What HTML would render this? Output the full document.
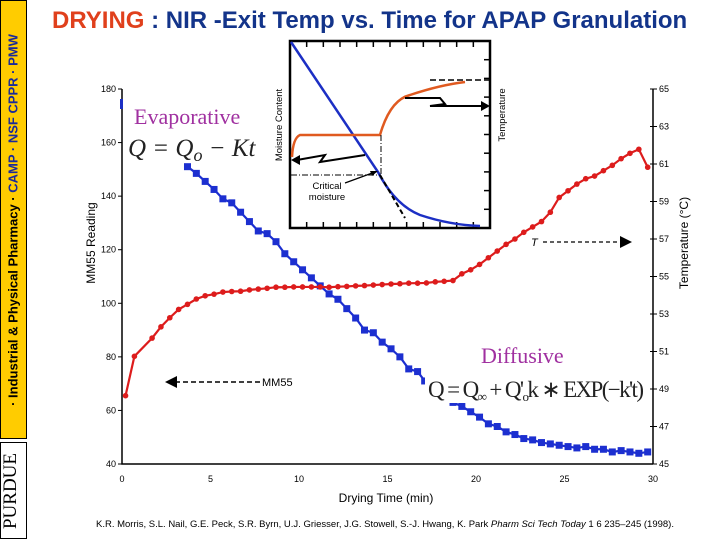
<!DOCTYPE html>
<html><head><meta charset="utf-8"><style>
body{margin:0;width:720px;height:540px;overflow:hidden;background:#fff;font-family:"Liberation Sans",sans-serif;position:relative}
.abs{position:absolute}
</style></head><body>
<div class="abs" style="left:0;top:0;width:27px;height:439px;background:#FFCC00;border:1px solid #000;box-sizing:border-box"></div>
<div class="abs" style="left:13px;top:220px;transform:translate(-50%,-50%) rotate(-90deg);white-space:nowrap;font-size:13px;font-weight:bold;color:#000">· Industrial &amp; Physical Pharmacy · <span style="color:#1a2a9a">CAMP · NSF CPPR · PMW</span></div>
<div class="abs" style="left:0;top:442px;width:27px;height:97px;border:1px solid #000;box-sizing:border-box"></div>
<div class="abs" style="left:11px;top:491px;transform:translate(-50%,-50%) rotate(-90deg);white-space:nowrap;font-family:'Liberation Serif',serif;font-size:19px">PURDUE</div>
<div class="abs" style="left:52px;top:7px;font-size:24px;font-weight:bold;color:#13348a;white-space:nowrap"><span style="color:#e0401c">DRYING</span> : NIR -Exit Temp vs. Time for APAP Granulation</div>
<svg class="abs" style="left:0;top:0" width="720" height="540" font-family="Liberation Sans, sans-serif">
<g id="axes"></g>
<g id="marks"></g>
<g>
<rect x="290" y="41" width="200" height="187" fill="#fff" stroke="#000" stroke-width="2.5"/>
<g id="insetTicks" stroke="#000" stroke-width="1.5"></g>
<path d="M291,42 L378,172 Q395,205 420,215 Q450,225 480,226" fill="none" stroke="#1c2fc4" stroke-width="2.5"/>
<path d="M380,175 L405,218" stroke="#000" stroke-width="2" stroke-dasharray="5,3"/>
<path d="M292,157 Q293,138 300,135 L380,135 Q390,100 410,95 Q440,85 465,82" fill="none" stroke="#e05a20" stroke-width="2.5"/>
<path d="M430,80 L490,80" stroke="#000" stroke-width="1.5" stroke-dasharray="6,3"/>
<path d="M381,135 L381,175 M291,175 L381,175" stroke="#000" stroke-width="1" stroke-dasharray="6,2,1,2"/>
<path d="M297,160 L325,155 L320,162 L365,155" fill="none" stroke="#000" stroke-width="2"/><polygon points="291,160 300,155 300,165" fill="#000"/>
<path d="M405,98 L440,98 L445,104 L430,106 L485,106" fill="none" stroke="#000" stroke-width="2"/><polygon points="490,106 481,101 481,111" fill="#000"/>
<path d="M345,183 L375,172" stroke="#000" stroke-width="1.2"/><polygon points="378,171 370,171 372,176" fill="#000"/>
<text x="327" y="189" font-size="9.5" text-anchor="middle">Critical</text>
<text x="327" y="200" font-size="9.5" text-anchor="middle">moisture</text>
<text transform="translate(282,125) rotate(-90)" font-size="9.5" text-anchor="middle">Moisture Content</text>
<text transform="translate(505,115) rotate(-90)" font-size="9.5" text-anchor="middle">Temperature</text>
</g>
<rect x="120" y="99" width="3" height="10" fill="#1c2fc4"/>
<text x="134" y="124" font-family="Liberation Serif, serif" font-size="22" fill="#a030a0">Evaporative</text>
<text x="128" y="156" font-family="Liberation Serif, serif" font-style="italic" font-size="25" fill="#222">Q = Q<tspan font-size="18" dy="5">o</tspan><tspan dy="-5"> − Kt</tspan></text>
<text x="481" y="363" font-family="Liberation Serif, serif" font-size="22" fill="#a030a0">Diffusive</text>
<rect x="425" y="373" width="222" height="30" fill="#fff"/>
<text x="428" y="397" font-family="Liberation Serif, serif" font-size="23" fill="#222" textLength="216">Q = Q<tspan font-size="13" dy="4">∞</tspan><tspan dy="-4"> + Q'</tspan><tspan font-size="13" dy="4">o</tspan><tspan dy="-4">k ∗ EXP(−k't)</tspan></text>
<path d="M175,382 L262,382" stroke="#000" stroke-width="1.5" stroke-dasharray="5,3"/><polygon points="165,382 177,376 177,388" fill="#000"/>
<text x="262" y="386" font-size="11">MM55</text>
<text x="531" y="246" font-size="11" font-style="italic">T</text>
<path d="M543,242 L620,242" stroke="#000" stroke-width="1.2" stroke-dasharray="4,3"/><polygon points="632,242 620,236 620,248" fill="#000"/>
<text x="386" y="502" font-size="12" text-anchor="middle">Drying Time (min)</text>
<text transform="translate(95,243) rotate(-90)" font-size="12" text-anchor="middle">MM55 Reading</text>
<text transform="translate(688,243) rotate(-90)" font-size="12" text-anchor="middle">Temperature (°C)</text>
<text x="385" y="527" font-size="9.5" text-anchor="middle">K.R. Morris, S.L. Nail, G.E. Peck, S.R. Byrn, U.J. Griesser, J.G. Stowell, S.-J. Hwang, K. Park <tspan font-style="italic">Pharm Sci Tech Today</tspan> 1 6 235–245 (1998).</text>
</svg>
<script>
const xTicks=[0,5,10,15,20,25,30];
const yTicks=[40,60,80,100,120,140,160,180];
const y2Ticks=[45,47,49,51,53,55,57,59,61,63,65];
const tempT=[0.2,0.7,1.7,2.2,2.7,3.2,3.7,4.2,4.7,5.2,5.7,6.2,6.7,7.2,7.7,8.2,8.7,9.2,9.7,10.2,10.7,11.2,11.7,12.2,12.7,13.2,13.7,14.2,14.7,15.2,15.7,16.2,16.7,17.2,17.7,18.2,18.7,19.2,19.7,20.2,20.7,21.2,21.7,22.2,22.7,23.2,23.7,24.2,24.7,25.2,25.7,26.2,26.7,27.2,27.7,28.2,28.7,29.2,29.7];
const tempV=[65.5,80.2,87,91.2,94.6,97.7,99.6,101.6,102.8,103.4,104.2,104.4,104.5,105,105.3,105.6,106,106,106.1,106.1,106.1,106.1,106,106.2,106.3,106.5,106.6,106.8,107,107.2,107.3,107.5,107.5,107.6,108,108.2,108.5,111,112.5,114.5,117,119.5,122,124,126.5,128.5,130.5,134,139.5,142,144.5,146.5,147.5,149.5,151.5,154,156,157.5,150.8];
const moistT=[3.7,4.2,4.7,5.2,5.7,6.2,6.7,7.2,7.7,8.2,8.7,9.2,9.7,10.2,10.7,11.2,11.7,12.2,12.7,13.2,13.7,14.2,14.7,15.2,15.7,16.2,16.7,17.1,17.7,18.2,18.7,19.2,19.7,20.2,20.7,21.2,21.7,22.2,22.7,23.2,23.7,24.2,24.7,25.2,25.7,26.2,26.7,27.2,27.7,28.2,28.7,29.2,29.7];
const moistV=[151,148.5,145.5,142.5,139,137.5,134,130.5,127,126,123,118.5,115.5,112.5,109.5,106.5,103.5,101.5,98,94.5,90,89,85.5,83,80,75.5,74.5,71,67,65,63,61.5,59.5,57.5,55,54,52,51,49.5,49,48,47.5,47,46.5,46,46.5,45.5,45.5,44.5,45,44.5,44,44.5];
const NS='http://www.w3.org/2000/svg';
const X=t=>122+t*(653-122)/30;
const Y=v=>464-(v-40)*(464-89)/140;
const Y2=v=>464-(v-45)*(464-89)/20;
function mk(tag,attrs,parent){const e=document.createElementNS(NS,tag);for(const k in attrs)e.setAttribute(k,attrs[k]);parent.appendChild(e);return e;}
const ax=document.getElementById('axes'),mk2=document.getElementById('marks');
let a=mk('path',{d:'M122,89 L122,464 L653,464 M653,89 L653,464',stroke:'#000','stroke-width':1.5,fill:'none'},ax);


yTicks.forEach(v=>{mk('line',{x1:118,x2:122,y1:Y(v),y2:Y(v),stroke:'#000'},ax);
const t=mk('text',{x:116,y:Y(v)+3,'font-size':9,'text-anchor':'end'},ax);t.textContent=v;

});
y2Ticks.forEach(v=>{mk('line',{x1:650,x2:657,y1:Y2(v),y2:Y2(v),stroke:'#000'},ax);
const t=mk('text',{x:659,y:Y2(v)+3,'font-size':9},ax);t.textContent=v;

});
xTicks.forEach(v=>{const t=mk('text',{x:X(v),y:482,'font-size':9,'text-anchor':'middle'},ax);t.textContent=v;

});
function series(T,V,col,sq,name){
 const p=mk('polyline',{points:T.map((t,i)=>X(t)+','+Y(V[i])).join(' '),fill:'none',stroke:col,'stroke-width':2.2},mk2);
 
 
 T.forEach((t,i)=>{let m;
  if(sq)m=mk('rect',{x:X(t)-3.5,y:Y(V[i])-3.5,width:7,height:7,fill:col},mk2);
  else m=mk('circle',{cx:X(t),cy:Y(V[i]),r:2.8,fill:col},mk2);
  
  });
}
series(moistT,moistV,'#1c2fd0',true,'moisture');
series(tempT,tempV,'#dd1c1c',false,'temperature');
const it=document.getElementById('insetTicks');
for(let i=1;i<12;i++){const x=290+i*200/12;mk('line',{x1:x,x2:x,y1:41,y2:47},it);mk('line',{x1:x,x2:x,y1:222,y2:228},it);}
for(let i=1;i<10;i++){const y=41+i*187/10;mk('line',{x1:484,x2:490,y1:y,y2:y},it);}
</script>
</body></html>
